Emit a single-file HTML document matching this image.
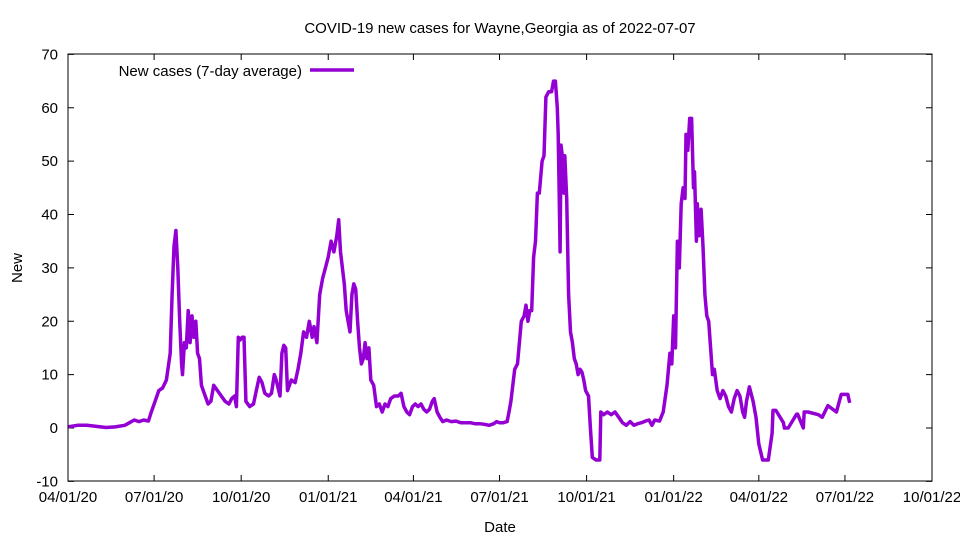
<!DOCTYPE html>
<html><head><meta charset="utf-8"><style>
body{margin:0;background:#fff;}
svg{display:block;font-family:"Liberation Sans",sans-serif;}
</style></head><body>
<svg id="chart" width="960" height="540">
<rect x="0" y="0" width="960" height="540" fill="#fff"/>
<text x="500" y="33" text-anchor="middle" font-size="15">COVID-19 new cases for Wayne,Georgia as of 2022-07-07</text>
<text x="500" y="532" text-anchor="middle" font-size="15">Date</text>
<text transform="translate(22,268) rotate(-90)" text-anchor="middle" font-size="15">New</text>
<g id="axes"></g>
<g id="series"></g>
<rect x="68" y="54" width="864" height="427" fill="none" stroke="#000" stroke-width="1"/>
<g>
<text x="302" y="76" text-anchor="end" font-size="15">New cases (7-day average)</text>
<line x1="310" y1="70" x2="354" y2="70" stroke="#9400d3" stroke-width="3.5"/>
</g>
</svg>
<script>
const yTicks=[-10,0,10,20,30,40,50,60,70];
const xTickLabels=["04/01/20","07/01/20","10/01/20","01/01/21","04/01/21","07/01/21","10/01/21","01/01/22","04/01/22","07/01/22","10/01/22"];
const xTickDays=[0,91,183,275,365,456,548,640,730,821,913];
const days=[0,10,20,30,40,50,60,65,70,75,80,85,88,92,96,100,104,108,110,112,114,116,118,120,121,123,125,127,129,131,133,135,137,139,141,145,148,151,154,158,162,166,170,173,176,178,180,182,184,186,188,192,196,199,202,205,208,212,215,218,220,224,226,228,230,232,236,240,243,246,249,252,255,258,260,263,266,269,272,275,278,281,284,286,288,290,292,294,296,298,300,302,304,306,308,310,312,314,316,318,320,323,326,329,332,335,338,341,345,349,352,355,358,361,364,367,370,373,376,379,382,385,387,390,393,396,400,405,410,415,420,425,430,435,440,445,450,453,456,460,464,466,468,470,472,475,477,479,482,484,486,488,490,492,494,496,498,501,503,505,508,511,513,515,517,518,519,520,521,523,524,525,527,529,531,533,535,537,539,541,543,545,547,550,552,554,558,562,563,566,570,574,578,582,586,590,594,598,602,606,610,614,617,620,625,629,633,636,638,640,642,644,646,648,650,652,653,655,657,659,661,662,664,665,667,669,671,673,675,677,679,681,683,686,689,692,695,698,701,704,707,710,713,715,717,720,724,727,730,734,740,744,745,748,756,757,761,770,771,777,778,782,793,797,803,812,817,824,826];
const values=[0.2,0.5,0.5,0.3,0.1,0.2,0.5,1,1.5,1.2,1.5,1.3,3,5,7,7.5,9,14,25,34,37,30,20,12,10,16,15,22,16,21,17,20,14,13,8,6,4.5,5,8,7,6,5,4.5,5.5,6,4,17,16.5,17,17,5,4,4.5,7,9.5,8.5,6.5,6,6.5,10,9,6,14,15.5,15,7,9,8.5,11,14,18,17,20,17,19,16,25,28,30,32,35,33,36,39,33,30,27,22,20,18,25,27,26,20,15,12,13,16,13,15,9,8,4,4.5,3,4.5,4,5.5,6,6,6.5,4,3,2.5,4,4.5,4,4.5,3.5,3,3.5,5,5.5,3,2,1.2,1.5,1.2,1.3,1,1,1,0.8,0.8,0.7,0.5,0.8,1.2,1,1,1.2,3,5,8,11,12,16,20,21,23,20,22,22,32,35,44,44,50,51,62,63,63,65,65,60,55,45,33,53,50,44,51,43,25,18,16,13,12,10,11,10.5,9,7,6,0,-5.5,-6,-6,3,2.5,3,2.5,3,2,1,0.5,1.2,0.5,0.8,1,1.3,1.5,0.5,1.5,1.3,3,8,14,12,21,15,35,30,42,45,43,55,52,58,58,45,48,35,42,36,41,34,25,21,20,15,10,11,7,5.5,7,6,4,3,5.5,7,6,3,2,5,7.7,5,2,-3,-6,-6,-1,3.3,3.3,1,0,0,2.6,2.6,0,3,3,2.5,2,4.2,3,6.3,6.3,4.7];
const X=d=>68+d*864/913;
const Y=v=>428-v*(427/80);
const NS="http://www.w3.org/2000/svg";
const axes=document.getElementById('axes');
yTicks.forEach(t=>{
  const y=Y(t);
  const l=document.createElementNS(NS,'path');
  l.setAttribute('d',`M68 ${y}h6M932 ${y}h-6`);l.setAttribute('stroke','#000');
  
  
  axes.appendChild(l);
  const tx=document.createElementNS(NS,'text');
  tx.setAttribute('x',58);tx.setAttribute('y',y+5);tx.setAttribute('text-anchor','end');tx.setAttribute('font-size','15');
  tx.textContent=t;
  
  
  axes.appendChild(tx);
});
xTickDays.forEach((d,i)=>{
  const x=X(d);
  const l=document.createElementNS(NS,'path');
  l.setAttribute('d',`M${x} 481v-6M${x} 54v6`);l.setAttribute('stroke','#000');
  
  
  axes.appendChild(l);
  const tx=document.createElementNS(NS,'text');
  tx.setAttribute('x',x);tx.setAttribute('y',502);tx.setAttribute('text-anchor','middle');tx.setAttribute('font-size','15');
  tx.textContent=xTickLabels[i];
  
  
  axes.appendChild(tx);
});
const p=document.createElementNS(NS,'polyline');
p.setAttribute('points',days.map((d,i)=>X(d).toFixed(1)+','+Y(values[i]).toFixed(1)).join(' '));
p.setAttribute('fill','none');p.setAttribute('stroke','#9400d3');p.setAttribute('stroke-width','3.5');p.setAttribute('stroke-linejoin','round');


document.getElementById('series').appendChild(p);
</script>
</body></html>
